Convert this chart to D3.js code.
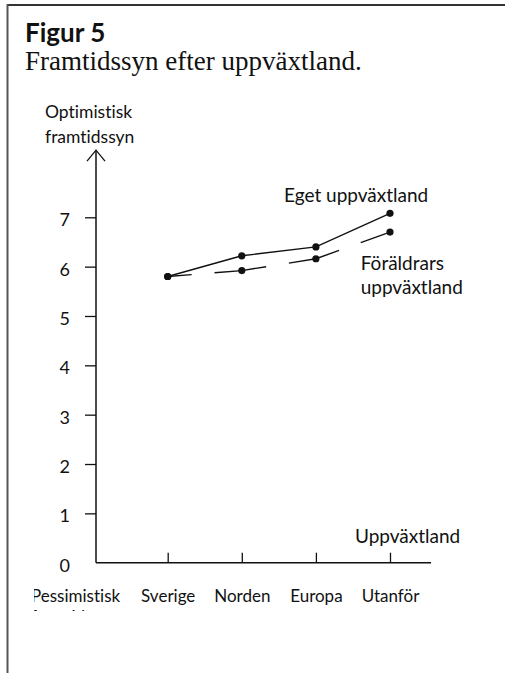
<!DOCTYPE html>
<html>
<head>
<meta charset="utf-8">
<script src="https://cdn.jsdelivr.net/npm/d3@7"></script>
<style>
  html, body { margin: 0; padding: 0; background: #fff; }
  svg { display: block; }
  text { font-family: Lato, "Noto Sans", sans-serif; fill: #111; font-variant-ligatures: none; font-feature-settings: "liga" 0, "clig" 0; }
</style>
</head>
<body>
<script>
// ---- data ----
const categories = ["Sverige", "Norden", "Europa", "Utanför"];
const egetValues = [5.8, 6.22, 6.4, 7.08];
const foraldrarValues = [5.8, 5.92, 6.16, 6.7];
const yTicks = [0, 1, 2, 3, 4, 5, 6, 7];
const titleText = "Figur 5";
const subtitleText = "Framtidssyn efter uppväxtland.";
const yLabelLines = ["Optimistisk", "framtidssyn"];
const yLowLabelLines = ["Pessimistisk", "framtidssyn"];
const xLabel = "Uppväxtland";
const egetLabel = ["Eget uppväxtland"];
const foraldrarLabel = ["Föräldrars", "uppväxtland"];

// ---- layout ----
const W = 505, H = 673;
const svg = d3.select("body").append("svg").attr("width", W).attr("height", H);

// frame
svg.append("line").attr("x1", 7).attr("x2", W).attr("y1", 5).attr("y2", 5)
  .attr("stroke", "#333").attr("stroke-width", 2);
svg.append("line").attr("x1", 7.5).attr("x2", 7.5).attr("y1", 4).attr("y2", H)
  .attr("stroke", "#555").attr("stroke-width", 2);

// title
svg.append("text").attr("x", 25).attr("y", 42).text(titleText)
  .style("font-size", "26px").style("font-weight", "700");
svg.append("text").attr("x", 25).attr("y", 70).text(subtitleText)
  .style("font-family", "'Liberation Serif', 'DejaVu Serif', serif")
  .style("font-size", "27px");

const y = d3.scaleLinear().domain([0, 7]).range([562.7, 217.3]);
const x = d3.scalePoint().domain(categories).range([167.7, 390]);
const axisX0 = 96;
const axisXEnd = 431;
const arrowTopVal = 8.36;

// y axis
const yAxisG = svg.append("g").attr("transform", `translate(${axisX0},0)`)
  .call(d3.axisLeft(y).tickValues(yTicks).tickSize(11).tickPadding(15).tickFormat(d3.format("d")));
yAxisG.select(".domain").remove();
yAxisG.selectAll(".tick line").attr("stroke", "#111").attr("stroke-width", 1.3)
  .filter(d => d === 0).remove();
yAxisG.selectAll(".tick text").attr("dy", "0.48em")
  .style("font-size", "18px").style("font-family", "Lato, sans-serif").attr("fill", "#111");

// y axis line with arrow
svg.append("line").attr("x1", axisX0).attr("x2", axisX0)
  .attr("y1", y(0)).attr("y2", y(arrowTopVal))
  .attr("stroke", "#111").attr("stroke-width", 1.5);
svg.append("path")
  .attr("d", `M${axisX0 - 9},${y(arrowTopVal) + 11} L${axisX0},${y(arrowTopVal)} L${axisX0 + 9},${y(arrowTopVal) + 11}`)
  .attr("fill", "none").attr("stroke", "#111").attr("stroke-width", 1.3);

// x axis
const xAxisG = svg.append("g").attr("transform", `translate(0,${y(0)})`)
  .call(d3.axisBottom(x).tickSize(-10).tickPadding(0));
xAxisG.select(".domain").remove();
xAxisG.selectAll(".tick line").attr("stroke", "#111").attr("stroke-width", 1.3);
xAxisG.selectAll(".tick text").attr("y", 39).attr("dy", 0)
  .style("font-size", "17px").style("font-family", "Lato, sans-serif").attr("fill", "#111");
svg.append("line").attr("x1", axisX0).attr("x2", axisXEnd)
  .attr("y1", y(0)).attr("y2", y(0))
  .attr("stroke", "#111").attr("stroke-width", 1.5);

// axis titles
svg.append("g").selectAll("text").data(yLabelLines).join("text")
  .attr("x", 45).attr("y", (d, i) => 118 + i * 25).text(d => d)
  .style("font-size", "17.5px");

svg.append("text").attr("x", 355).attr("y", 543.3).text(xLabel)
  .style("font-size", "19px");

// clipped low label (the reference crops it)
svg.append("clipPath").attr("id", "lowclip").append("rect")
  .attr("x", 34).attr("y", 570).attr("width", 100).attr("height", 41);
svg.append("g").attr("clip-path", "url(#lowclip)")
  .selectAll("text").data(yLowLabelLines).join("text")
  .attr("x", 31).attr("y", (d, i) => 601.7 + i * 21).text(d => d)
  .style("font-size", "17px");

// lines
const line = d3.line().x((d, i) => x(categories[i])).y(d => y(d));
svg.append("path").datum(egetValues).attr("d", line)
  .attr("fill", "none").attr("stroke", "#111").attr("stroke-width", 1.4);
svg.append("path").datum(foraldrarValues).attr("d", line)
  .attr("fill", "none").attr("stroke", "#111").attr("stroke-width", 1.4)
  .attr("stroke-dasharray", "52 23").attr("stroke-dashoffset", 28);

// points
svg.append("g").selectAll("circle").data(egetValues).join("circle")
  .attr("cx", (d, i) => x(categories[i])).attr("cy", d => y(d)).attr("r", 3.6).attr("fill", "#111");
svg.append("g").selectAll("circle").data(foraldrarValues).join("circle")
  .attr("cx", (d, i) => x(categories[i])).attr("cy", d => y(d)).attr("r", 3.6).attr("fill", "#111");

// series labels
svg.append("g").selectAll("text").data(egetLabel).join("text")
  .attr("x", 284).attr("y", (d, i) => 201.7 + i * 24).text(d => d)
  .style("font-size", "19px");
svg.append("g").selectAll("text").data(foraldrarLabel).join("text")
  .attr("x", 360.7).attr("y", (d, i) => 270 + i * 24).text(d => d)
  .style("font-size", "19px");
</script>
</body>
</html>
